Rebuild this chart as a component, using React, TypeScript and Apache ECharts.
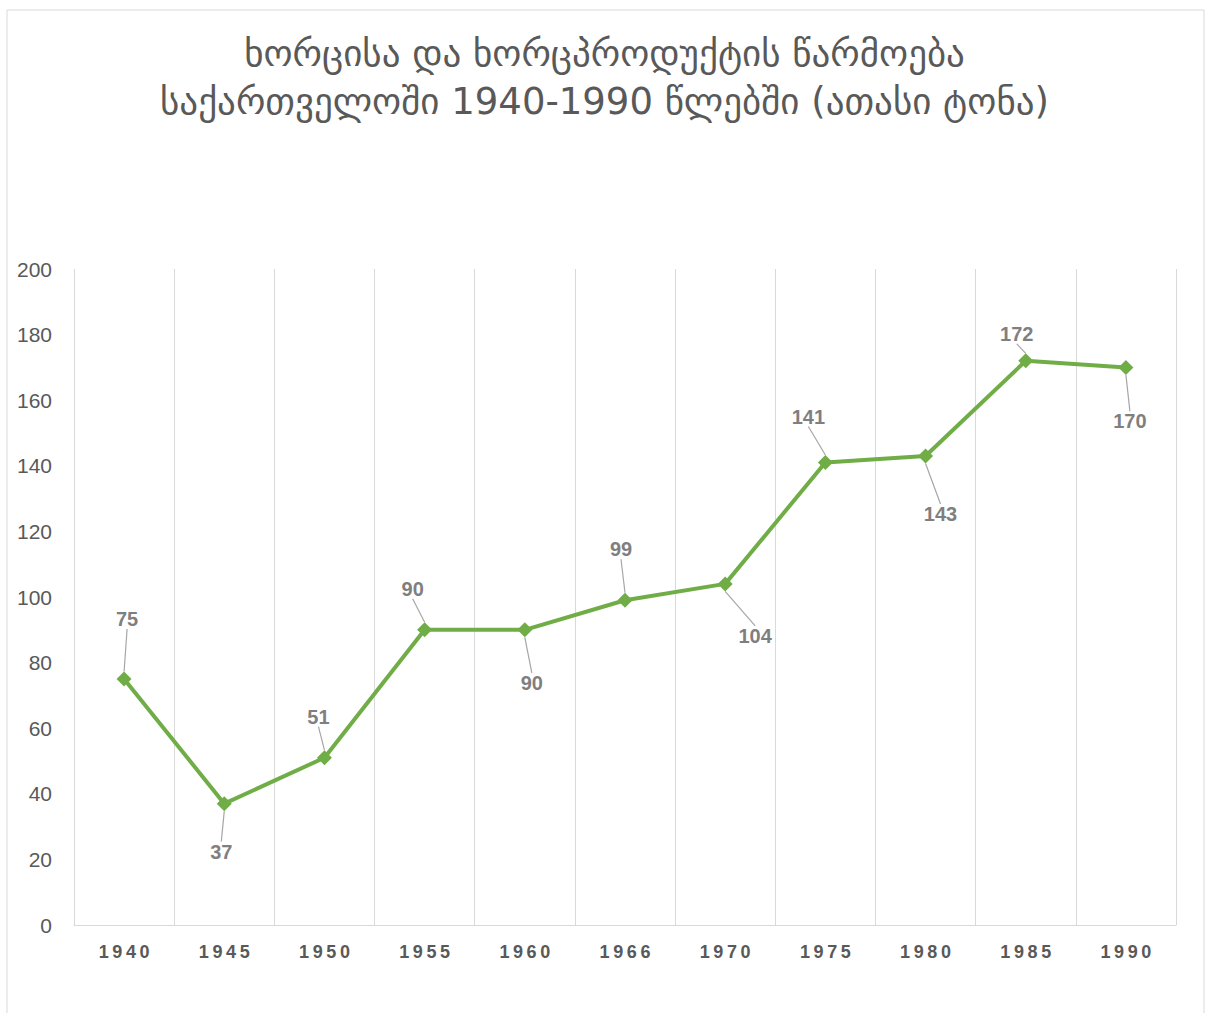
import React, { useEffect, useRef } from "react";
import * as echarts from "echarts";

const titleLines = [
  "ხორცისა და ხორცპროდუქტის წარმოება",
  "საქართველოში 1940-1990 წლებში (ათასი ტონა)",
];
const years = ["1940", "1945", "1950", "1955", "1960", "1966", "1970", "1975", "1980", "1985", "1990"];
const values = [75, 37, 51, 90, 90, 99, 104, 141, 143, 172, 170];
const yTicks = { min: 0, max: 200, interval: 20 };
const labelDx = [3, -3, -6, -12, 7, -4, 30, -17, 15, -9, 4];
const labelDy = [-60, 48, -41, -41, 53, -51, 52, -46, 58, -27, 54];

export default function App() {
  const ref = useRef<HTMLDivElement>(null);
  useEffect(() => {
    const chart = echarts.init(ref.current!, null, { renderer: "svg" });
    chart.setOption({
      animation: false,
      backgroundColor: "#ffffff",
      graphic: [
        {
          type: "rect",
          shape: { x: 7, y: 10, width: 1197, height: 1020 },
          style: { fill: "none", stroke: "#d9d9d9", lineWidth: 1 },
          silent: true,
        },
      ],
      title: {
        text: titleLines.join("\n"),
        left: "center",
        top: 24,
        textStyle: {
          fontFamily: "DejaVu Sans",
          fontSize: 37,
          lineHeight: 48,
          fontWeight: "normal",
          color: "#595959",
        },
      },
      grid: { left: 74, right: 33, top: 269, bottom: 88 },
      xAxis: {
        type: "category",
        data: years,
        boundaryGap: true,
        axisLine: { show: true, lineStyle: { color: "#d9d9d9", width: 1 } },
        axisTick: { show: false },
        splitLine: { show: true, interval: 0, lineStyle: { color: "#d9d9d9", width: 1 } },
        axisLabel: {
          interval: 0,
          margin: 18,
          fontFamily: "Liberation Sans",
          fontWeight: "bold",
          fontSize: 18,
          color: "#595959",
          formatter: (v: string) => v.split("").join("\u2009"),
        },
      },
      yAxis: {
        type: "value",
        min: yTicks.min,
        max: yTicks.max,
        interval: yTicks.interval,
        axisLine: { show: false },
        axisTick: { show: false },
        splitLine: { show: false },
        axisLabel: {
          margin: 22,
          fontFamily: "Liberation Sans",
          fontSize: 21,
          color: "#595959",
        },
      },
      series: [
        {
          type: "line",
          data: values,
          symbol: "diamond",
          symbolSize: 15,
          lineStyle: { color: "#70ad47", width: 4 },
          itemStyle: { color: "#70ad47" },
          label: {
            show: true,
            position: "inside",
            fontFamily: "Liberation Sans",
            fontWeight: "bold",
            fontSize: 20,
            color: "#7f7f7f",
          },
          labelLine: { show: true, lineStyle: { color: "#a6a6a6", width: 1.2 } },
          labelLayout: (p: any) => ({ dx: labelDx[p.dataIndex], dy: labelDy[p.dataIndex] }),
        },
      ],
    });
    return () => chart.dispose();
  }, []);
  return (
    <div
      ref={ref}
      style={{ position: "absolute", left: 0, top: 0, width: 1209, height: 1013 }}
    />
  );
}
